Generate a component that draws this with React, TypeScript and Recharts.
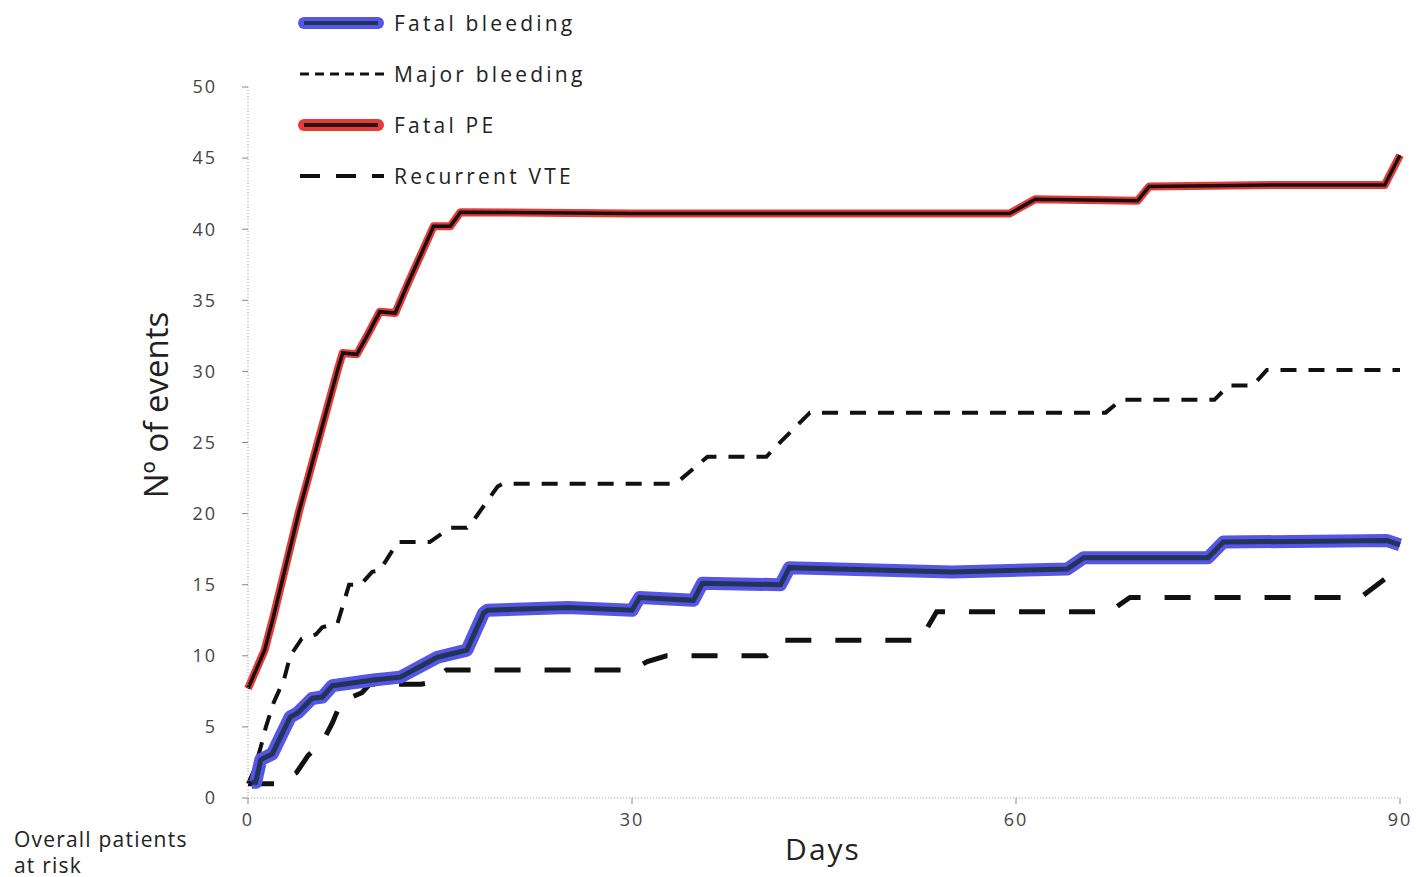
import { Legend, Line, LineChart, XAxis, YAxis } from "recharts";

// Cumulative events over 90 days.
const fatalPeDays = [0, 1.3, 2, 3, 4, 5, 6, 7, 7.4, 8.5, 9.3, 10.3, 11.5, 12.5, 13.5, 14.5, 15.8, 16.6, 30, 45, 59.5, 60.3, 61.5, 69.5, 70.4, 80, 88.8, 90];
const fatalPeEvents = [7.7, 10.4, 12.8, 16.5, 20.2, 23.5, 26.8, 30.1, 31.3, 31.2, 32.5, 34.2, 34.1, 36.2, 38.2, 40.2, 40.2, 41.2, 41.1, 41.1, 41.1, 41.5, 42.1, 42.0, 43.0, 43.1, 43.1, 45.2];

const majorBleedingDays = [0, 0.5, 1, 1.4, 2, 2.8, 3.3, 4.2, 5.3, 5.8, 7, 7.9, 8.8, 9.7, 10.3, 11.7, 14.2, 15, 15.8, 17.1, 17.6, 19.5, 19.9, 33, 33.8, 35.9, 40.5, 41, 43.9, 67, 68.2, 75.5, 76.6, 78.5, 79.6, 90];
const majorBleedingEvents = [1, 2, 3.6, 5, 6.7, 8.3, 10, 11.2, 11.5, 12, 12.3, 15, 15, 15.9, 16, 18, 18, 18.5, 19, 19, 19.5, 21.9, 22.1, 22.1, 22.4, 24, 24, 24.5, 27.1, 27.1, 28, 28, 29, 29, 30.1, 30.1];

const fatalBleedingDays = [0.3, 0.6, 1, 1.9, 3.3, 3.9, 5, 5.8, 6.6, 9.8, 11.9, 14.8, 17.1, 18.4, 18.7, 25, 30, 30.6, 34.8, 35.5, 41.6, 42.3, 55, 64, 65.3, 75, 76.2, 89, 90];
const fatalBleedingEvents = [1.1, 1.1, 2.7, 3.1, 5.7, 6, 7, 7.1, 7.9, 8.3, 8.5, 9.9, 10.4, 13, 13.2, 13.4, 13.2, 14.1, 13.9, 15.1, 15, 16.2, 15.9, 16.1, 16.9, 16.9, 18, 18.1, 17.8];

const recurrentVteDays = [0, 2.3, 3.8, 4.7, 5.8, 6.6, 7.3, 8.9, 9.5, 13.5, 14.2, 15.5, 17.6, 30, 31.2, 32.7, 40.5, 41.8, 52.5, 53.8, 67.3, 68.9, 86.9, 90];
const recurrentVteEvents = [1, 1, 1.8, 3, 3.9, 5.3, 6.8, 7.4, 8, 8, 8.1, 9, 9, 9, 9.6, 10, 10, 11.1, 11.1, 13.1, 13.1, 14.1, 14.1, 16.2];

const yTicks = [0, 5, 10, 15, 20, 25, 30, 35, 40, 45, 50];
const xTicks = [0, 30, 60, 90];

const legendLabels = ["Fatal bleeding", "Major bleeding", "Fatal PE", "Recurrent VTE"];

const toPoints = (days: number[], events: number[]) =>
  days.map((day, i) => ({ day, events: events[i] }));

const FONT = "'Open Sans', 'DejaVu Sans', sans-serif";
const BLUE = "#5555e6";
const NAVY = "#233458";
const RED = "#e53a36";

function LegendIcon({ index }: { index: number }) {
  if (index === 0 || index === 2) {
    const outer = index === 0 ? BLUE : RED;
    const inner = index === 0 ? NAVY : "#2a1414";
    return (
      <svg width={90} height={16}>
        <rect x={2} y={2} width={86} height={12} rx={6} fill={outer} />
        <line x1={8} y1={8} x2={82} y2={8} stroke={inner} strokeWidth={4} />
      </svg>
    );
  }
  return (
    <svg width={90} height={16}>
      <line
        x1={4}
        y1={8}
        x2={88}
        y2={8}
        stroke="#111"
        strokeWidth={index === 1 ? 3 : 4}
        strokeDasharray={index === 1 ? "9 6" : "20 16"}
      />
    </svg>
  );
}

function ChartLegend() {
  return (
    <div style={{ fontFamily: FONT }}>
      {legendLabels.map((label, i) => (
        <div
          key={label}
          style={{ display: "flex", alignItems: "center", height: 51, gap: 8 }}
        >
          <LegendIcon index={i} />
          <span style={{ fontSize: 21, letterSpacing: 3.2, color: "#222" }}>{label}</span>
        </div>
      ))}
    </div>
  );
}

export default function App() {
  return (
    <div
      style={{
        position: "absolute",
        left: 0,
        top: 0,
        width: 1416,
        height: 877,
        background: "#fff",
        fontFamily: FONT,
      }}
    >
      <LineChart width={1416} height={877} margin={{ top: 87, right: 16, bottom: 0, left: 0 }}>
        <XAxis
          dataKey="day"
          type="number"
          domain={[0, 90]}
          ticks={xTicks}
          height={79}
          allowDuplicatedCategory={false}
          stroke="#999"
          axisLine={{ stroke: "#9a9a9a", strokeDasharray: "1 2" }}
          tickLine={{ stroke: "#888" }}
          tickSize={6}
          tickMargin={9}
          tick={{ fill: "#444", fontSize: 18, letterSpacing: 2, fontFamily: FONT }}
          label={{
            content: () => (
              <text
                x={823}
                y={848}
                textAnchor="middle"
                dominantBaseline="central"
                fontSize={30}
                letterSpacing={2}
                fill="#222"
                fontFamily={FONT}
              >
                Days
              </text>
            ),
          }}
        />
        <YAxis
          type="number"
          domain={[0, 50]}
          ticks={yTicks}
          width={248}
          axisLine={{ stroke: "#9a9a9a", strokeDasharray: "1 2" }}
          tickLine={{ stroke: "#888" }}
          tickSize={6}
          tickMargin={25}
          tick={{ fill: "#444", fontSize: 18, letterSpacing: 2, fontFamily: FONT }}
          label={{
            content: () => (
              <text
                x={155}
                y={405}
                transform="rotate(-90 155 405)"
                textAnchor="middle"
                dominantBaseline="central"
                fontSize={33}
                fill="#222"
                fontFamily={FONT}
              >
                Nº of events
              </text>
            ),
          }}
        />
        <Legend
          layout="vertical"
          align="center"
          verticalAlign="middle"
          wrapperStyle={{ top: -3, left: 296, width: 380 }}
          content={() => <ChartLegend />}
        />
        <Line
          data={toPoints(recurrentVteDays, recurrentVteEvents)}
          dataKey="events"
          name="Recurrent VTE"
          stroke="#111"
          strokeWidth={5}
          strokeDasharray="26 24"
          dot={false}
          isAnimationActive={false}
        />
        <Line
          data={toPoints(majorBleedingDays, majorBleedingEvents)}
          dataKey="events"
          name="Major bleeding"
          stroke="#111"
          strokeWidth={4}
          strokeDasharray="16 12"
          dot={false}
          isAnimationActive={false}
        />
        <Line
          data={toPoints(fatalBleedingDays, fatalBleedingEvents)}
          dataKey="events"
          name="Fatal bleeding"
          stroke={BLUE}
          strokeWidth={13}
          strokeLinejoin="round"
          dot={false}
          isAnimationActive={false}
        />
        <Line
          data={toPoints(fatalBleedingDays, fatalBleedingEvents)}
          dataKey="events"
          name="Fatal bleeding core"
          legendType="none"
          stroke={NAVY}
          strokeWidth={5}
          dot={false}
          isAnimationActive={false}
        />
        <Line
          data={toPoints(fatalPeDays, fatalPeEvents)}
          dataKey="events"
          name="Fatal PE"
          stroke={RED}
          strokeWidth={8}
          strokeLinejoin="round"
          dot={false}
          isAnimationActive={false}
        />
        <Line
          data={toPoints(fatalPeDays, fatalPeEvents)}
          dataKey="events"
          name="Fatal PE core"
          legendType="none"
          stroke="#161010"
          strokeWidth={3.5}
          dot={false}
          isAnimationActive={false}
        />
      </LineChart>
      <div
        style={{
          position: "absolute",
          left: 14,
          top: 826,
          fontSize: 21,
          lineHeight: "26px",
          color: "#222",
          letterSpacing: 1.2,
        }}
      >
        Overall patients
        <br />
        at risk
      </div>
    </div>
  );
}
